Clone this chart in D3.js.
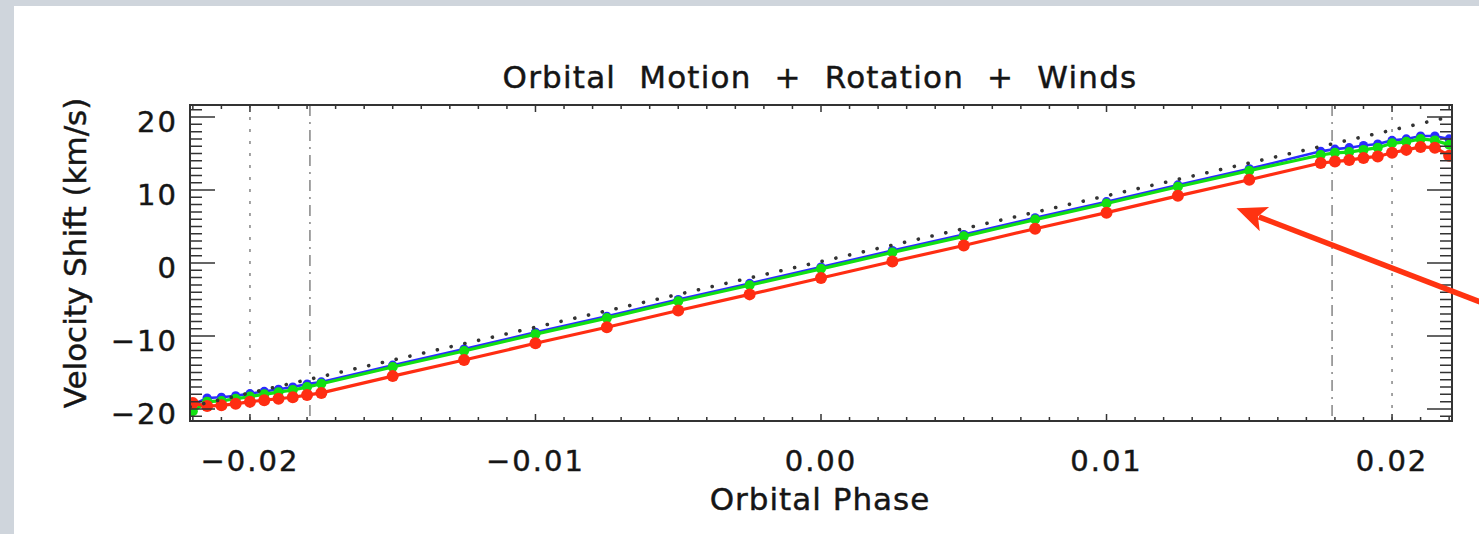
<!DOCTYPE html>
<html>
<head>
<meta charset="utf-8">
<script src="https://d3js.org/d3.v7.min.js"></script>
<style>
    html, body { margin: 0; padding: 0; background: #cfd5dc; }
    svg { display: block; }
    text { font-family: "DejaVu Sans", "Liberation Sans", sans-serif; fill: #151515; stroke: #151515; stroke-width: 0.45; }
</style>
</head>
<body>
<div id="chart"></div>
<script>
// orbital phase of every model point (dense near ingress / egress)
var phases = [
    -0.0220, -0.0215, -0.0210, -0.0205, -0.0200, -0.0195, -0.0190, -0.0185, -0.0180, -0.0175,
    -0.0150, -0.0125, -0.0100, -0.0075, -0.0050, -0.0025, 0.0000, 0.0025, 0.0050, 0.0075, 0.0100, 0.0125, 0.0150,
    0.0175, 0.0180, 0.0185, 0.0190, 0.0195, 0.0200, 0.0205, 0.0210, 0.0215, 0.0220
];
var blueShift = [
    -19.4, -18.5, -18.4, -18.2, -17.9, -17.6, -17.3, -17.0, -16.6, -16.3,
    -14.0, -11.8, -9.5, -7.3, -5.0, -2.8, -0.55, 1.7, 3.9, 6.2, 8.4, 10.7, 12.9,
    15.3, 15.6, 15.8, 16.1, 16.3, 16.8, 17.0, 17.4, 17.4, 17.0
];
var greenShift = [
    -20.3, -19.0, -18.9, -18.6, -18.3, -18.0, -17.7, -17.4, -17.0, -16.55,
    -14.25, -12.05, -9.75, -7.55, -5.25, -3.05, -0.8, 1.45, 3.65, 5.95, 8.15, 10.45, 12.65,
    14.8, 15.1, 15.2, 15.5, 15.8, 16.4, 16.6, 17.0, 16.8, 16.2
];
var redShift = [
    -19.2, -19.6, -19.5, -19.3, -19.0, -18.8, -18.6, -18.4, -18.1, -17.8,
    -15.5, -13.3, -11.0, -8.8, -6.5, -4.3, -2.05, 0.2, 2.4, 4.7, 6.9, 9.2, 11.4,
    13.7, 13.9, 14.1, 14.4, 14.6, 15.1, 15.5, 15.9, 15.8, 14.7
];
// pure orbital motion (dotted)
var orbitPhase = [-0.0221, 0.0221];
var orbitShift = [-19.7, 20.1];
// contact markers
var dottedMarks = [-0.0200, 0.0200];
var dashDotMarks = [-0.0179, 0.0179];
var xTickValues = [-0.02, -0.01, 0.00, 0.01, 0.02];
var yTickValues = [-20, -10, 0, 10, 20];
// annotation arrow, tail then tip, in data units
var arrowPhase = [0.0231, 0.01455];
var arrowShift = [-5.35, 7.5];

var ch = ch || {};

ch.init = function () {
    var width = 1479, height = 534;
    var left = 190, right = 1452, top = 105, bottom = 421;

    var svg = d3.select("#chart").append("svg")
        .attr("width", width)
        .attr("height", height);

    // white slide panel
    svg.append("rect")
        .attr("x", 14).attr("y", 6)
        .attr("width", width - 14).attr("height", height - 6)
        .attr("fill", "#ffffff");

    var x = d3.scaleLinear().domain([-0.0221, 0.0221]).range([left, right]);
    var y = d3.scaleLinear().domain([-21.65, 21.65]).range([bottom, top]);

    svg.append("clipPath").attr("id", "plot-clip")
        .append("rect")
        .attr("x", left).attr("y", top)
        .attr("width", right - left).attr("height", bottom - top);

    var plot = svg.append("g").attr("clip-path", "url(#plot-clip)");

    // vertical contact lines
    plot.selectAll(".dotted-mark")
        .data(dottedMarks)
        .enter().append("line")
        .attr("class", "dotted-mark")
        .attr("x1", (d) => x(d)).attr("x2", (d) => x(d))
        .attr("y1", top).attr("y2", bottom)
        .attr("stroke", "#999").attr("stroke-width", 1.8)
        .attr("stroke-dasharray", "3,9");

    plot.selectAll(".dashdot-mark")
        .data(dashDotMarks)
        .enter().append("line")
        .attr("class", "dashdot-mark")
        .attr("x1", (d) => x(d)).attr("x2", (d) => x(d))
        .attr("y1", top).attr("y2", bottom)
        .attr("stroke", "#999").attr("stroke-width", 1.8)
        .attr("stroke-dasharray", "11,6,2,6");

    var series = [
        { name: "blue", values: blueShift, color: "#2b2bff", r: 4.6, w: 2.6 },
        { name: "green", values: greenShift, color: "#12e012", r: 5, w: 3.2 },
        { name: "red", values: redShift, color: "#ff2d12", r: 6, w: 3.2 }
    ];

    var line = d3.line()
        .x((d) => x(d[0]))
        .y((d) => y(d[1]));

    series.forEach(function (s) {
        var pts = phases.map((p, i) => [p, s.values[i]]);
        plot.append("path")
            .datum(pts)
            .attr("fill", "none")
            .attr("stroke", s.color)
            .attr("stroke-width", s.w)
            .attr("d", line);
        plot.selectAll(".pt-" + s.name)
            .data(pts)
            .enter().append("circle")
            .attr("class", "pt-" + s.name)
            .attr("cx", (d) => x(d[0]))
            .attr("cy", (d) => y(d[1]))
            .attr("r", s.r)
            .attr("fill", s.color);
    });

    // orbital motion only
    plot.append("path")
        .datum(orbitPhase.map((p, i) => [p, orbitShift[i]]))
        .attr("fill", "none")
        .attr("stroke", "#333")
        .attr("stroke-width", 3.6)
        .attr("stroke-linecap", "round")
        .attr("stroke-dasharray", "0.1,14")
        .attr("d", line);

    // axes: ticks inward on all four sides
    var tickColor = "#333";
    var xMinor = d3.range(-22, 23).map((d) => d / 1000);
    var yMinor = d3.range(-21, 22);

    var frame = svg.append("g");
    frame.selectAll(".xminor")
        .data(xMinor)
        .enter().append("path")
        .attr("class", "xminor")
        .attr("d", function (d) {
            var len = (Math.abs(Math.round(d * 1000)) % 10 === 0) ? 7 : 4;
            return "M" + x(d) + "," + bottom + "v" + (-len) +
                "M" + x(d) + "," + top + "v" + len;
        })
        .attr("stroke", tickColor).attr("stroke-width", 1.5);

    frame.selectAll(".yminor")
        .data(yMinor)
        .enter().append("path")
        .attr("class", "yminor")
        .attr("d", function (d) {
            var len = (d % 10 === 0) ? 25 : 12;
            return "M" + left + "," + y(d) + "h" + len +
                "M" + right + "," + y(d) + "h" + (-len);
        })
        .attr("stroke", tickColor).attr("stroke-width", 1.5);

    frame.append("rect")
        .attr("x", left).attr("y", top)
        .attr("width", right - left).attr("height", bottom - top)
        .attr("fill", "none")
        .attr("stroke", "#333").attr("stroke-width", 2);

    var fmt = d3.format(".2f");
    svg.selectAll(".xlabel")
        .data(xTickValues)
        .enter().append("text")
        .attr("class", "xlabel")
        .attr("x", (d) => x(d))
        .attr("y", 471)
        .attr("text-anchor", "middle")
        .attr("font-size", 29)
        .attr("letter-spacing", 2)
        .text((d) => fmt(d));

    svg.selectAll(".ylabel")
        .data(yTickValues)
        .enter().append("text")
        .attr("class", "ylabel")
        .attr("x", 178)
        .attr("y", (d) => y(d) + 15)
        .attr("text-anchor", "end")
        .attr("font-size", 29)
        .attr("letter-spacing", 2)
        .text((d) => d3.format("d")(d));

    svg.append("text")
        .attr("x", 820).attr("y", 510)
        .attr("text-anchor", "middle")
        .attr("font-size", 31)
        .attr("letter-spacing", 1)
        .text("Orbital Phase");

    svg.append("text")
        .attr("transform", "translate(86,253) rotate(-90)")
        .attr("text-anchor", "middle")
        .attr("font-size", 31)
        .text("Velocity Shift (km/s)");

    svg.append("text")
        .attr("x", 820).attr("y", 88)
        .attr("text-anchor", "middle")
        .attr("font-size", 31)
        .attr("letter-spacing", 1.2)
        .attr("word-spacing", 12)
        .text("Orbital Motion + Rotation + Winds");

    // annotation arrow
    var ax0 = x(arrowPhase[0]), ay0 = y(arrowShift[0]);
    var ax1 = x(arrowPhase[1]), ay1 = y(arrowShift[1]);
    var ang = Math.atan2(ay1 - ay0, ax1 - ax0);
    var headLen = 30, headHalf = 13;
    var bx = ax1 - headLen * Math.cos(ang), by = ay1 - headLen * Math.sin(ang);
    svg.append("line")
        .attr("x1", ax0).attr("y1", ay0)
        .attr("x2", bx + 6 * Math.cos(ang)).attr("y2", by + 6 * Math.sin(ang))
        .attr("stroke", "#ff3311").attr("stroke-width", 5.5);
    svg.append("path")
        .attr("d", "M" + ax1 + "," + ay1 +
            "L" + (bx + headHalf * Math.sin(ang)) + "," + (by - headHalf * Math.cos(ang)) +
            "L" + (bx + 7 * Math.cos(ang)) + "," + (by + 7 * Math.sin(ang)) +
            "L" + (bx - headHalf * Math.sin(ang)) + "," + (by + headHalf * Math.cos(ang)) + "Z")
        .attr("fill", "#ff3311");
};

ch.init();
</script>
</body>
</html>
